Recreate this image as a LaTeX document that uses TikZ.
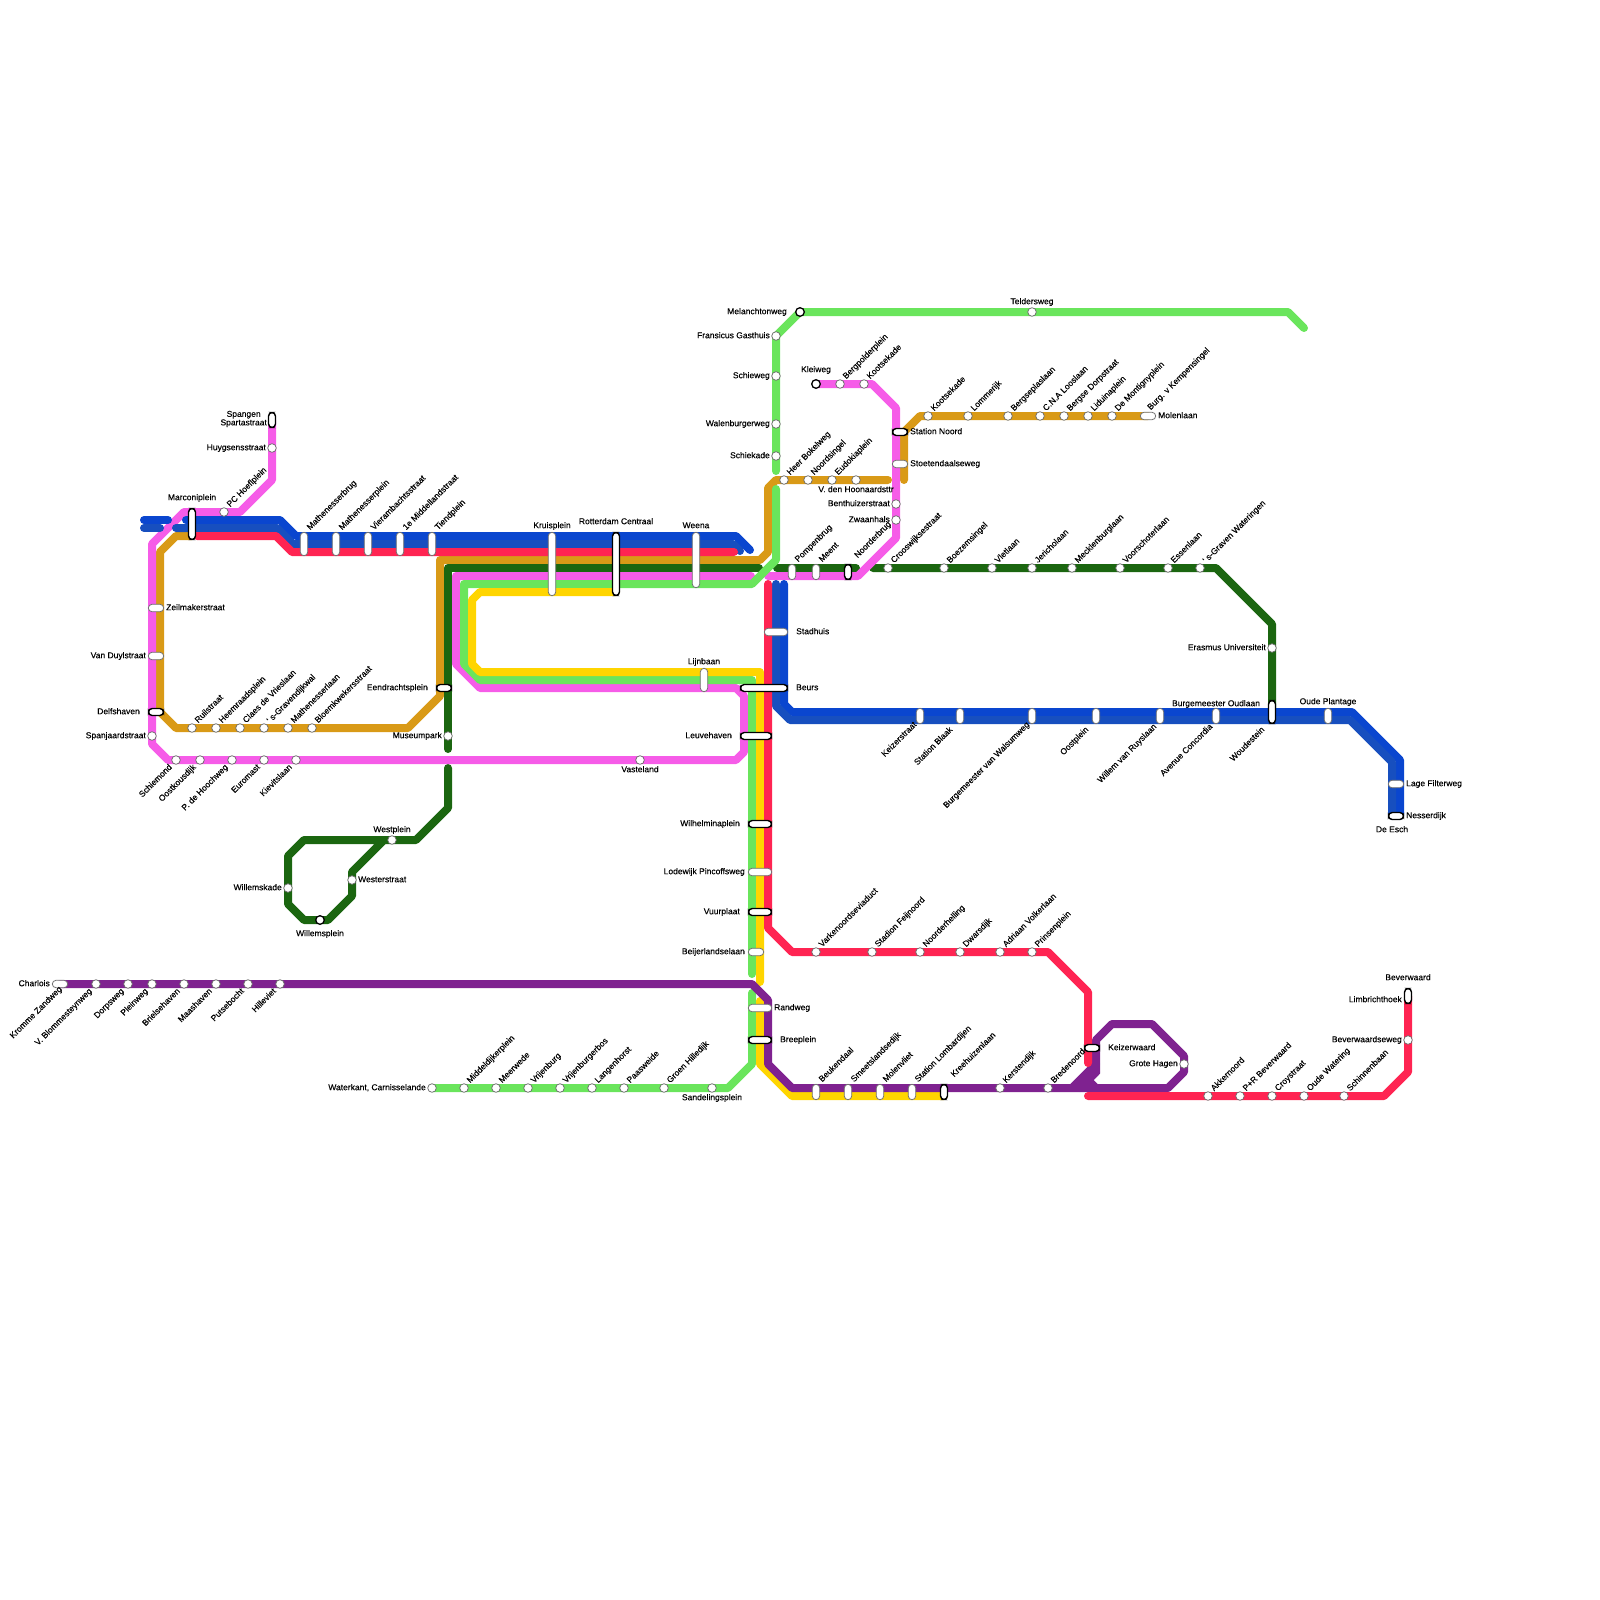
\documentclass[tikz,border=0pt]{standalone}
\usepackage{fontspec}
\setmainfont{Liberation Sans}
\newfontfamily\stopfont[FakeBold=0.2]{Liberation Sans}

\definecolor{linePink}{HTML}{F65CE8}
\definecolor{lineGold}{HTML}{D99A17}
\definecolor{lineForest}{HTML}{1B6610}
\definecolor{lineLime}{HTML}{6AE55C}
\definecolor{lineYellow}{HTML}{FFD500}
\definecolor{lineRed}{HTML}{FF2452}
\definecolor{lineBlue}{HTML}{0A46CF}
\definecolor{lineSteel}{HTML}{174FBF}
\definecolor{linePurple}{HTML}{7F2290}

\begin{document}
\begin{tikzpicture}[
    x=1pt,
    y=-1pt,
    route/.style={line width=8pt, line cap=round, line join=round},
    stop/.style={draw=black!60, fill=white, circle, line width=0.7pt, inner sep=0pt, minimum size=8.6pt},
    endstop/.style={stop, draw=black, line width=1.3pt},
    pill/.style={draw=black!55, fill=white, rectangle, rounded corners=3.7pt, line width=0.8pt, inner sep=0pt},
    hubpill/.style={pill, draw=black, line width=1.4pt},
    stopname/.style={font=\stopfont\fontsize{8.5}{8.5}\selectfont, text=black, inner sep=0pt},
    rowname/.style={stopname, text height=6pt, text depth=1.6pt},
    upname/.style={rowname, anchor=west, rotate=45},
    downname/.style={rowname, anchor=east, rotate=45},
    upstop/.style={xshift=4.5pt, yshift=6pt, upname},
    downstop/.style={xshift=-5pt, yshift=-6pt, downname}
]
\useasboundingbox (0,0) rectangle (1600,1600);

% bends and ends of the lines
\foreach \nm/\x/\y in {
    pa/272/420, pb/272/480, pc/240/512, pd/184/512, pe/152/544, pf/152/744, pg/168/760, ph/736/760,
    pi/744/752, pj/744/696, pk/736/688, pl/480/688, pm/456/664, pn/456/576, po/751/576,
    pp/768/576, pq/858/576, pr/896/538, ps/896/408, pt/872/384, pu/816/384,
    ga/192/536, gb/176/536, gc/160/552, gd/160/712, ge/176/728, gf/408/728, gg/440/696, gh/440/560,
    gi/760/560, gj/768/552, gk/768/488, gl/776/480, gm/888/480,
    gn/904/480, go/904/432, gp/920/416, gq/1148/416,
    fa/448/749, fb/448/568, fc/759/568, fd/777/568, fe/856/568, ff/873/568, fg/1216/568, fh/1272/624, fi/1272/712,
    fj/448/768, fk/448/808, fl/416/840, fm/304/840, fn/288/856, fo/288/904, fp/304/920, fq/328/920,
    fr/352/896, fs/352/872, ft/384/840,
    la/776/489, lb/776/560, lc/752/584, ld/464/584, le/464/664, lf/480/680, lg/752/680, lh/752/974,
    li/752/993, lj/752/1064, lk/728/1088, lm/432/1088,
    ln/776/471, lo/776/336, lp/800/312, lq/1288/312, lr/1304/328,
    ya/616/592, yb/480/592, yc/472/600, yd/472/664, ye/480/672, yf/760/672, yg/760/982,
    yh/760/1001, yi/760/1064, yj/792/1096, yk/944/1096,
    ra/197/536, rb/276/536, rc/292/552, rd/734/552,
    re/768/584, rf/768/928, rg/792/952, rh/1048/952, ri/1088/992, rj/1088/1063,
    rk/1088/1096, rm/1384/1096, rn/1408/1072, ro/1408/996,
    ba/144/520, bb/168/520, bc/186/520, bd/280/520, be/296/536, bf/736/536, bg/750/550,
    bh/784/584, bi/784/704, bj/792/712, bk/1352/712, bm/1400/760, bn/1400/816,
    sa/144/528, sb/160/528, sc/176/528, sd/277/528, se/293/544, sf/733/544, sg/740/551,
    sh/776/584, si/776/706, sj/790/720, sk/1350/720, sm/1392/762, sn/1392/816,
    ua/60/984, ub/752/984, uc/768/1000, ud/768/1064, ue/792/1088, uf/1168/1088, ug/1184/1072,
    uh/1184/1056, ui/1152/1024, uj/1112/1024, uk/1096/1040, um/1096/1064, un/1072/1088,
    uo/1096/1072, up/1088/1080, uq/1096/1088, ur/1080/1088}
    \coordinate (\nm) at (\x,\y);

% gold
\draw[route, lineGold] (ga) -- (gb) -- (gc) -- (gd) -- (ge) -- (gf) -- (gg) -- (gh) -- (gi) -- (gj) -- (gk) -- (gl) -- (gm);
\draw[route, lineGold] (gn) -- (go) -- (gp) -- (gq);
% forest
\draw[route, lineForest] (fa) -- (fb) -- (fc);
\draw[route, lineForest] (fd) -- (fe);
\draw[route, lineForest] (ff) -- (fg) -- (fh) -- (fi);
\draw[route, lineForest] (fj) -- (fk) -- (fl) -- (fm) -- (fn) -- (fo) -- (fp) -- (fq) -- (fr) -- (fs) -- (ft);
% pink
\draw[route, linePink] (pa) -- (pb) -- (pc) -- (pd) -- (pe) -- (pf) -- (pg) -- (ph) -- (pi) -- (pj) -- (pk) -- (pl) -- (pm) -- (pn) -- (po);
\draw[route, linePink] (pp) -- (pq) -- (pr) -- (ps) -- (pt) -- (pu);
% lime
\draw[route, lineLime] (la) -- (lb) -- (lc) -- (ld) -- (le) -- (lf) -- (lg) -- (lh);
\draw[route, lineLime] (li) -- (lj) -- (lk) -- (lm);
\draw[route, lineLime] (ln) -- (lo) -- (lp) -- (lq) -- (lr);
% yellow
\draw[route, lineYellow] (ya) -- (yb) -- (yc) -- (yd) -- (ye) -- (yf) -- (yg);
\draw[route, lineYellow] (yh) -- (yi) -- (yj) -- (yk);
% blue, two shades
\draw[route, lineBlue] (ba) -- (bb);
\draw[route, lineBlue] (bc) -- (bd) -- (be) -- (bf) -- (bg);
\draw[route, lineBlue] (bh) -- (bi) -- (bj) -- (bk) -- (bm) -- (bn);
\draw[route, lineSteel] (sa) -- (sb);
\draw[route, lineSteel] (sc) -- (sd) -- (se) -- (sf) -- (sg);
\draw[route, lineSteel] (sh) -- (si) -- (sj) -- (sk) -- (sm) -- (sn);
% purple
\draw[route, linePurple] (ua) -- (ub) -- (uc) -- (ud) -- (ue) -- (uf) -- (ug) -- (uh) -- (ui) -- (uj) -- (uk) -- (um) -- (un);
\draw[route, linePurple, line join=miter] (um) -- (uo) -- (up) -- (uq);
\draw[route, linePurple] (uo) -- (ur);
% red
\draw[route, lineRed] (ra) -- (rb) -- (rc) -- (rd);
\draw[route, lineRed] (re) -- (rf) -- (rg) -- (rh) -- (ri) -- (rj);
\draw[route, lineRed] (rk) -- (rm) -- (rn) -- (ro);

% round stops, name running up
\foreach \nm/\x/\y/\txt in {
    hoefl/224/512/PC Hoeflplein,
    ruil/192/728/Ruilstraat, heemr/216/728/Heemraadsplein, claes/240/728/Claes de Vrieslaan,
    gravw/264/728/' s-Gravendijkwal, mathl/288/728/Mathenesserlaan, bloem/312/728/Bloemkwekersstraat,
    bergp/840/384/Bergpolderplein, koots/864/384/Kootsekade,
    bokel/784/480/Heer Bokelweg, noords/808/480/Noordsingel, eudok/832/480/Eudokiaplein,
    kootsb/928/416/Kootsekade, lomm/968/416/Lommerijk, bergs/1008/416/Bergseplaslaan, looslaan/1040/416/C.N.A Looslaan,
    dorps/1064/416/Bergse Dorpstraat, lidui/1088/416/Liduinaplein, montig/1112/416/De Montignyplein,
    croos/888/568/Crooswijksestraat, boezem/944/568/Boezemsingel, vlet/992/568/Vletlaan, jericho/1032/568/Jericholaan,
    meckl/1072/568/Mecklenburglaan, voorsch/1120/568/Voorschoterlaan, essen/1168/568/Essenlaan, gravb/1200/568/' s-Graven Wateringen,
    varken/816/952/Varkenoordseviaduct, feijn/872/952/Stadion Feijnoord, noordh/920/952/Noorderhelling,
    dwars/960/952/Dwarsdijk, volker/1000/952/Adriaan Volkerlaan, prins/1032/952/Prinsenplein,
    middel/464/1088/Middeldijkerplein, meerw/496/1088/Meerwede, vrijen/528/1088/Vrijenburg, vrijbos/560/1088/Vrijenburgerbos,
    langen/592/1088/Langenhorst, paasw/624/1088/Paasweide, groen/664/1088/Groen Hilledijk,
    kerst/1000/1088/Kerstendijk, breden/1048/1088/Bredenoord,
    akker/1208/1096/Akkernoord, beverpr/1240/1096/P+R Beverwaard, croy/1272/1096/Croystraat,
    watering/1304/1096/Oude Watering, schinn/1344/1096/Schinnenbaan}
    {\node[stop] (\nm) at (\x,\y) {}; \node[upstop] (\nm name) at (\nm) {\txt};}

% round stops, name running down
\foreach \nm/\x/\y/\txt in {
    schiem/176/760/Schiemond, oostk/200/760/Oostkousdijk, hooch/232/760/P. de Hoochweg, eurom/264/760/Euromast, kievit/296/760/Kievitslaan,
    blomm/96/984/V. Blommesteynweg, dorpw/128/984/Dorpsweg, plein/152/984/Pleinweg, briel/184/984/Brielsehaven,
    maash/216/984/Maashaven, putse/248/984/Putsebocht, hillev/280/984/Hilleviet}
    {\node[stop] (\nm) at (\x,\y) {}; \node[downstop] (\nm name) at (\nm) {\txt};}

% round stops, name set apart
\foreach \nm/\x/\y in {
    huygs/272/448, spanj/152/736, vaste/640/760, museum/448/736, frans/776/336, schie/776/376, walen/776/424, schiek/776/456,
    telders/1032/312, hoon/856/480, benth/896/504, zwaan/896/520, erasm/1272/648, carnis/432/1088, sandel/712/1088,
    grote/1184/1064, beverw/1408/1040, westp/392/840, westr/352/880, wkade/288/888}
    \node[stop] (\nm) at (\x,\y) {};
\foreach \nm/\x/\y in {melan/800/312, kleiw/816/384, wplein/320/920}
    \node[endstop] (\nm) at (\x,\y) {};

% pills
\foreach \nm/\x/\y/\w/\h in {
    mbrug/304/544/7.4/23.4, mplein/336/544/7.4/23.4, viera/368/544/7.4/23.4, midd/400/544/7.4/23.4, tiend/432/544/7.4/23.4,
    kruis/552/564/7.4/63.4, weena/696/560/7.4/55.4, lijn/704/680/7.4/23.4, stadh/776/632/23.4/7.4,
    zeil/156/608/15.4/7.4, duyl/156/656/15.4/7.4, pinc/760/872/23.4/7.4, beij/756/952/15.4/7.4, randw/760/1008/23.4/7.4,
    beuk/816/1092/7.4/15.4, smeet/848/1092/7.4/15.4, molen/880/1092/7.4/15.4, lomb/912/1092/7.4/15.4,
    pomp/792/572/7.4/15.4, meent/816/572/7.4/15.4, stoet/900/464/15.4/7.4, molenl/1148/416/15.4/7.4,
    keiz/920/716/7.4/15.4, blaak/960/716/7.4/15.4, walsum/1032/716/7.4/15.4, oostpl/1096/716/7.4/15.4, ruys/1160/716/7.4/15.4,
    oudl/1216/716/7.4/15.4, plant/1328/716/7.4/15.4, filter/1396/784/15.4/7.4, charl/60/984/15.4/7.4}
    \node[pill, minimum width=\w, minimum height=\h] (\nm) at (\x,\y) {};
\foreach \nm/\x/\y/\w/\h in {
    spang/272/420/7/15, marco/192/524/7/31, rotte/616/564/7/63, beurs/764/688/47/7, leuve/756/736/31/7,
    eendr/444/688/15/7, delfs/156/712/15/7, wilh/760/824/23/7, vuur/760/912/23/7, breep/760/1040/23/7,
    kreeh/944/1092/7/15, noorb/848/572/7/15, snoord/900/432/15/7, woude/1272/712/7/23,
    nesser/1396/816/15/7, keizw/1092/1048/15/7, limb/1408/996/7/15}
    \node[hubpill, minimum width=\w, minimum height=\h] (\nm) at (\x,\y) {};

% names beside the stops
\node[stopname, align=center, anchor=east] (spangname) at (267,419) {Spangen\\Spartastraat};
\foreach \nm/\x/\y/\anc/\txt in {
    huygsn/266/448/east/Huygsensstraat, marcon/192/498/center/Marconiplein, zeiln/166/608/west/Zeilmakerstraat,
    duyln/146/656/east/Van Duylstraat, delfsn/140/712/east/Delfshaven, spanjn/146/736/east/Spanjaardstraat,
    eendrn/428/688/east/Eendrachtsplein, museumn/442/736/east/Museumpark, kruisn/552/526/center/Kruisplein,
    rotten/616/522/center/Rotterdam Centraal, weenan/696/526/center/Weena, lijnn/704/662/center/Lijnbaan,
    stadhn/796/632/west/Stadhuis, beursn/796/688/west/Beurs, leuven/732/736/east/Leuvehaven, vasten/640/770/center/Vasteland,
    melann/787/312/east/Melanchtonweg, teldn/1032/302/center/Teldersweg, fransn/770/336/east/Fransicus Gasthuis,
    schien/770/376/east/Schieweg, walenn/770/424/east/Walenburgerweg, schiekn/770/456/east/Schiekade,
    kleiwn/816/370/center/Kleiweg, hoonn/856/490/center/V. den Hoonaardsttr, benthn/890/504/east/Benthuizerstraat,
    zwaann/890/520/east/Zwaanhals, snoordn/910/432/west/Station Noord, stoetn/910/464/west/Stoetendaalseweg,
    molenln/1158/416/west/Molenlaan, erasmn/1266/648/east/Erasmus Universiteit, oudln/1216/704/center/Burgemeester Oudlaan,
    plantn/1328/702/center/Oude Plantage, filtern/1406/784/west/Lage Filterweg, nessern/1406/816/west/Nesserdijk,
    eschn/1392/830/center/De Esch, wilhn/740/824/east/Wilhelminaplein, pincn/745/872/east/Lodewijk Pincoffsweg,
    vuurn/740/912/east/Vuurplaat, beijn/745/952/east/Beijerlandselaan, randwn/774/1008/west/Randweg,
    breepn/780/1040/west/Breeplein, sandeln/712/1098/center/Sandelingsplein, carnisn/426/1088/east/{Waterkant, Carnisselande},
    charln/50/984/east/Charlois, keizwn/1108/1048/west/Keizerwaard, groten/1178/1064/east/Grote Hagen,
    beverwn/1408/978/center/Beverwaard, limbn/1402/1000/east/Limbrichthoek, beverwsn/1402/1040/east/Beverwaardseweg,
    westpn/392/830/center/Westplein, westrn/358/880/west/Westerstraat, wkaden/282/888/east/Willemskade,
    wpleinn/320/934/center/Willemsplein}
    \node[rowname, anchor=\anc] (\nm) at (\x,\y) {\txt};

% slanted names at the pills
\foreach \nm/\x/\y/\txt in {
    mbrugn/308.5/529/Mathenesserbrug, mpleinn/340.5/529/Mathenesserplein, vieran/372.5/529/Vierambachtsstraat,
    middn/404.5/529/1e Middellandstraat, tiendn/436.5/529/Tiendplein, pompn/796.5/561/Pompenbrug, meentn/820.5/561/Meent,
    noorbn/856/557/Noorderbrug, beukn/820.5/1081/Beukendaal, smeetn/852.5/1081/Smeetslandsedijk, molenn/884.5/1081/Molenvliet,
    lombn/916.5/1081/Station Lombardijen, kreehn/952.5/1076/Kreehuizenlaan, burgn/1149/409/Burg. v Kempensingel}
    \node[upname] (\nm) at (\x,\y) {\txt};
\foreach \nm/\x/\y/\txt in {
    keizn/915.5/723.5/Keizerstraat, blaakn/951.5/728.5/Station Blaak, walsumn/1028.5/723.5/Burgemeester van Walsumweg,
    oostpn/1087.5/728.5/Oostplein, ruysn/1155.5/725.5/Willem van Ruyslaan, concn/1211.5/725.5/Avenue Concordia,
    wouden/1263.5/728.5/Woudestein, zandn/61/988/Kromme Zandweg}
    \node[downname] (\nm) at (\x,\y) {\txt};
\end{tikzpicture}
\end{document}
